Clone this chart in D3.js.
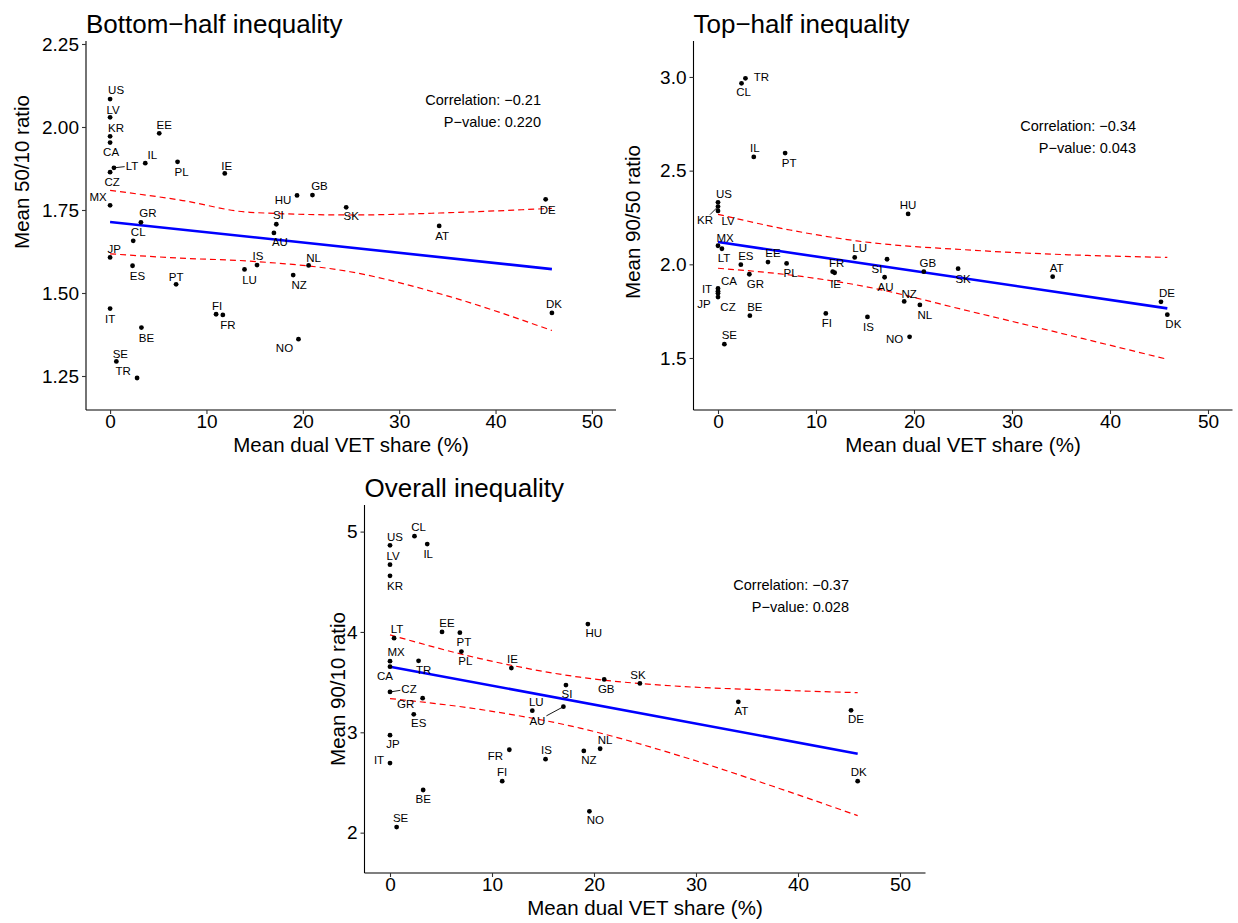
<!DOCTYPE html>
<html>
<head>
<meta charset="utf-8">
<script src="https://cdn.jsdelivr.net/npm/d3@7"></script>
<style>
  body { margin: 0; background: #fff; }
  svg text { font-family: "Liberation Sans", Arial, Helvetica, sans-serif; }
</style>
</head>
<body>
<svg id="chart" width="1238" height="923"></svg>
<script>
// Country data
const countries = ["US","LV","KR","CA","EE","IL","PL","IE","LT","CZ","MX","GR","CL","JP","ES","PT","LU","IS","NZ","NL","IT","FI","FR","BE","NO","SE","TR","SK","SI","AU","HU","GB","AT","DE","DK"];
const dualVetShare = [0,0,0,0,5.1,3.65,7.0,11.9,0.4,0,0,3.2,2.4,0,2.33,6.85,13.95,15.25,19.0,20.6,0,11.0,11.7,3.25,19.55,0.65,2.8,24.5,17.25,17.0,19.4,21.0,34.15,45.2,45.85];
const ratio5010 = [2.084,2.029,1.972,1.953,1.981,1.891,1.895,1.860,1.877,1.864,1.764,1.713,1.657,1.607,1.582,1.526,1.571,1.584,1.554,1.583,1.453,1.436,1.434,1.396,1.361,1.294,1.244,1.758,1.707,1.681,1.794,1.795,1.702,1.782,1.440];
const ratio9050 = [2.331,2.285,2.308,1.871,2.012,2.573,2.005,1.955,2.083,1.825,2.099,1.947,2.966,1.845,1.998,2.594,2.037,1.719,1.802,1.783,1.856,1.738,1.961,1.726,1.613,1.574,2.993,1.977,2.027,1.931,2.269,1.961,1.934,1.800,1.731];
const ratio9010 = [4.863,4.670,4.559,3.654,4.000,4.876,3.804,3.640,3.938,3.402,3.709,3.340,4.954,2.971,3.179,3.993,3.216,2.732,2.814,2.836,2.693,2.513,2.826,2.425,2.213,2.056,3.712,3.487,3.471,3.255,4.078,3.527,3.304,3.219,2.513];

// Fitted line (at min and max share) and 95% band
const fitX = [0, 45.85];
const fitBottom = [1.714, 1.572];
const fitTop = [2.119, 1.765];
const fitOverall = [3.654, 2.787];
const bandXBottom = [0, 7.26, 14.52, 24.9, 35.27, 45.85];
const upperBottom = [1.809, 1.780, 1.743, 1.735, 1.742, 1.755];
const lowerBottom = [1.618, 1.605, 1.596, 1.564, 1.489, 1.387];
const bandXTop = [0, 7.35, 14.15, 26.05, 36.26, 45.85];
const upperTop = [2.267, 2.183, 2.125, 2.075, 2.050, 2.037];
const lowerTop = [1.979, 1.943, 1.890, 1.745, 1.616, 1.493];
const bandXOverall = [0, 8.82, 18.63, 28.43, 38.24, 45.85];
const upperOverall = [3.971, 3.735, 3.549, 3.458, 3.419, 3.395];
const lowerOverall = [3.336, 3.228, 3.042, 2.765, 2.438, 2.170];

// Tick labels
const xTicks = [0, 10, 20, 30, 40, 50];
const ticks5010 = [1.25, 1.50, 1.75, 2.00, 2.25];
const ticks9050 = [1.5, 2.0, 2.5, 3.0];
const ticks9010 = [2, 3, 4, 5];

// Reported statistics
const corrText = ["Correlation: \u22120.21", "Correlation: \u22120.34", "Correlation: \u22120.37"];
const pvalText = ["P\u2212value: 0.220", "P\u2212value: 0.043", "P\u2212value: 0.028"];

// Label offsets (ggrepel placement), [dx, dy, segment]
const nudgeBottom = {US:[6,-9],LV:[3,-8],KR:[6,-8],CA:[1,9],EE:[5,-8],IL:[7,-8],PL:[4,10],IE:[2,-8],LT:[18,-2,1],CZ:[2,10],MX:[-12,-8],GR:[7,-9],CL:[5,-9],JP:[4,-9],ES:[5,10],PT:[0,-8],LU:[5,10],IS:[1,-9],NZ:[6,10],NL:[5,-8],IT:[0,10],FI:[1,-8],FR:[5,10],BE:[5,10],NO:[-14,9],SE:[4,-8],TR:[-14,-7],SK:[5,9],SI:[2,-9],AU:[6,9],HU:[-14,4],GB:[7,-9],AT:[3,10],DE:[2,10],DK:[2,-9]};
const nudgeTop = {TR:[16,-1],CL:[2,9],IL:[1,-9],PT:[4,10],US:[6,-8],KR:[-13,13,1],LV:[10,10],HU:[0,-9],MX:[7,-8],LT:[2,9],ES:[5,-9],EE:[5,-9],PL:[4,9],FR:[4,-9],IE:[1,11],LU:[5,-10],SI:[-10,10],AU:[1,10],GB:[4,-9],SK:[5,10],GR:[6,10],CA:[11,-8],IT:[-11,-2],JP:[-14,11],CZ:[10,10],BE:[5,-9],SE:[5,-9],FI:[1,9],IS:[1,10],NO:[-15,2],NZ:[5,-8],NL:[5,10],AT:[4,-9],DE:[6,-9],DK:[6,9]};
const nudgeOverall = {US:[5,-8],CL:[4,-9],IL:[1,10],LV:[3,-9],KR:[5,10],LT:[3,-9],EE:[5,-9],PT:[4,9],PL:[4,9],MX:[6,-9],CA:[-5,9],TR:[5,9],IE:[1,-9],CZ:[19,-3,1],GR:[-17,6],ES:[5,9],JP:[3,9],IT:[-11,-3],BE:[0,9],SE:[4,-9],FR:[-14,6],FI:[0,-9],IS:[1,-9],LU:[4,-9],AU:[-26,14,1],SI:[1,9],GB:[2,9],NZ:[5,9],NL:[5,-9],NO:[6,9],HU:[6,9],SK:[-2,-9],AT:[3,9],DE:[5,9],DK:[1,-9]};

const svg = d3.select("#chart");
const FONT_TICK = 19, FONT_AXIS = 20.5, FONT_TITLE = 26, FONT_LABEL = 11.5, FONT_ANNOT = 14.5;

const panels = [
  { title: "Bottom\u2212half inequality", yTitle: "Mean 50/10 ratio", values: ratio5010, yTicks: ticks5010, fmt: d3.format(".2f"),
    fit: fitBottom, bandX: bandXBottom, upper: upperBottom, lower: lowerBottom,
    box: {left: 86, right: 616, top: 41, bottom: 410}, yDomain: [1.1476, 2.259], nudge: nudgeBottom, stat: 0,
    annotX: 541, annotY: 105, titleY: 33, yTitleX: 29, yTitleY: 172 },
  { title: "Top\u2212half inequality", yTitle: "Mean 90/50 ratio", values: ratio9050, yTicks: ticks9050, fmt: d3.format(".1f"),
    fit: fitTop, bandX: bandXTop, upper: upperTop, lower: lowerTop,
    box: {left: 693.5, right: 1232.5, top: 41, bottom: 410}, yDomain: [1.2224, 3.192], nudge: nudgeTop, stat: 1,
    annotX: 1136, annotY: 131, titleY: 33, yTitleX: 640, yTitleY: 222 },
  { title: "Overall inequality", yTitle: "Mean 90/10 ratio", values: ratio9010, yTicks: ticks9010, fmt: d3.format("d"),
    fit: fitOverall, bandX: bandXOverall, upper: upperOverall, lower: lowerOverall,
    box: {left: 364.5, right: 925.5, top: 505, bottom: 873}, yDomain: [1.598, 5.265], nudge: nudgeOverall, stat: 2,
    annotX: 849, annotY: 590, titleY: 497, yTitleX: 345, yTitleY: 689 }
];

function drawPanel(p) {
  const b = p.box;
  const x = d3.scaleLinear().domain([-2.5, 52.5]).range([b.left, b.right]);
  const y = d3.scaleLinear().domain(p.yDomain).range([b.bottom, b.top]);
  const g = svg.append("g");

  // axis lines
  g.append("line").attr("x1", b.left).attr("x2", b.left).attr("y1", b.top).attr("y2", b.bottom)
    .attr("stroke", "#000").attr("stroke-width", 1.1);
  g.append("line").attr("x1", b.left).attr("x2", b.right).attr("y1", b.bottom).attr("y2", b.bottom)
    .attr("stroke", "#000").attr("stroke-width", 1.1);

  // axes (ticks + labels)
  const xAxis = g.append("g").attr("transform", `translate(0,${b.bottom})`)
    .call(d3.axisBottom(x).tickValues(xTicks).tickSize(4).tickPadding(1).tickFormat(d3.format("d")));
  const yAxis = g.append("g").attr("transform", `translate(${b.left},0)`)
    .call(d3.axisLeft(y).tickValues(p.yTicks).tickSize(4).tickPadding(3).tickFormat(p.fmt));
  [xAxis, yAxis].forEach(ax => {
    ax.select(".domain").remove();
    ax.selectAll(".tick line").attr("stroke", "#333").attr("stroke-width", 1.1);
    ax.selectAll(".tick text").attr("fill", "#000").style("font-size", FONT_TICK + "px")
      .style("font-family", "'Liberation Sans', Arial, sans-serif");
  });

  // title and axis titles
  g.append("text").attr("x", b.left).attr("y", p.titleY).text(p.title)
    .style("font-size", FONT_TITLE + "px");
  g.append("text").attr("x", (b.left + b.right) / 2).attr("y", b.bottom + 42).attr("text-anchor", "middle")
    .text("Mean dual VET share (%)").style("font-size", FONT_AXIS + "px");
  g.append("text").attr("transform", `translate(${p.yTitleX},${p.yTitleY}) rotate(-90)`)
    .attr("text-anchor", "middle").text(p.yTitle).style("font-size", FONT_AXIS + "px");

  // confidence band (dashed) and fitted line
  const band = vals => d3.line().curve(d3.curveMonotoneX)
    .x((d, i) => x(p.bandX[i])).y(d => y(d))(vals);
  [p.upper, p.lower].forEach(vals => {
    g.append("path").attr("d", band(vals)).attr("fill", "none").attr("stroke", "#ff0000")
      .attr("stroke-width", 1.2).attr("stroke-dasharray", "6,4");
  });
  g.append("path").attr("d", d3.line().x((d, i) => x(fitX[i])).y(d => y(d))(p.fit))
    .attr("fill", "none").attr("stroke", "#0000ff").attr("stroke-width", 2.6);

  // points
  const pts = countries.map((c, i) => ({c, px: x(dualVetShare[i]), py: y(p.values[i])}));
  g.selectAll("circle.pt").data(pts).join("circle").attr("class", "pt")
    .attr("cx", d => d.px).attr("cy", d => d.py).attr("r", 2.4).attr("fill", "#000");

  // labels, with segments where ggrepel pushed them away
  pts.forEach(d => {
    const [dx, dy, seg] = p.nudge[d.c];
    const lx = d.px + dx, ly = d.py + dy;
    const t = g.append("text").attr("x", lx).attr("y", ly).attr("dy", "0.36em").attr("text-anchor", "middle")
      .style("font-size", FONT_LABEL + "px").attr("fill", "#000").text(d.c);
    if (seg) {
      const hw = t.node().getComputedTextLength() / 2 + 1, hh = 5;
      const vx = d.px - lx, vy = d.py - ly;
      const k = Math.min(Math.abs(hw / (vx || 1e-6)), Math.abs(hh / (vy || 1e-6)));
      g.append("line").attr("x1", d.px).attr("y1", d.py).attr("x2", lx + vx * k).attr("y2", ly + vy * k)
        .attr("stroke", "#000").attr("stroke-width", 0.9);
    }
  });

  // correlation annotation
  g.append("text").attr("x", p.annotX).attr("y", p.annotY).attr("text-anchor", "end")
    .style("font-size", FONT_ANNOT + "px").text(corrText[p.stat]);
  g.append("text").attr("x", p.annotX).attr("y", p.annotY + 22).attr("text-anchor", "end")
    .style("font-size", FONT_ANNOT + "px").text(pvalText[p.stat]);
}

panels.forEach(drawPanel);
</script>
</body>
</html>
